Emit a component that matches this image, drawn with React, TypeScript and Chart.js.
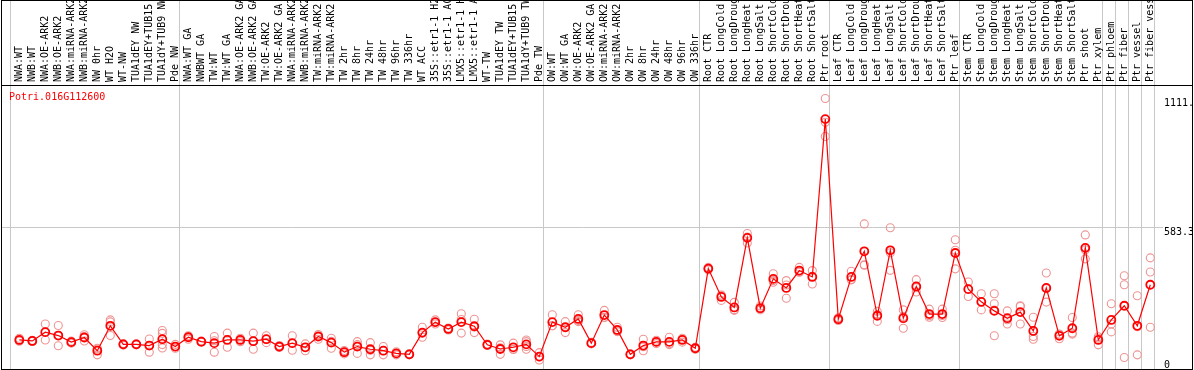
import React, { useEffect, useRef } from 'react';
import { Chart, registerables } from 'chart.js';

Chart.register(...registerables);

const geneId = 'Potri.016G112600';

const categories = [
  'NWA:WT', 'NWB:WT', 'NWA:OE-ARK2', 'NWB:OE-ARK2', 'NWA:miRNA-ARK2', 'NWB:miRNA-ARK2', 'NW 0hr', 'WT H2O', 'WT-NW',
  'TUA1dEY NW', 'TUA1dEY+TUB15 NW', 'TUA1dY+TUB9 NW', 'Pde NW',
  'NWA:WT GA', 'NWBWT GA', 'TW:WT', 'TW:WT GA', 'NWA:OE-ARK2 GA', 'NWB:OE-ARK2 GA', 'TW:OE-ARK2', 'TW:OE-ARK2 GA',
  'NWA:miRNA-ARK2', 'NWB:miRNA-ARK2', 'TW:miRNA-ARK2', 'TW:miRNA-ARK2', 'TW 2hr', 'TW 8hr', 'TW 24hr', 'TW 48hr',
  'TW 96hr', 'TW 336hr', 'WT ACC', '35S::etr1-1 H2O', '35S::etr1-1 ACC', 'LMX5::etr1-1 H2O', 'LMX5::etr1-1 ACC',
  'WT-TW', 'TUA1dEY TW', 'TUA1dEY+TUB15 TW', 'TUA1dY+TUB9 TW', 'Pde TW',
  'OW:WT', 'OW:WT GA', 'OW:OE-ARK2', 'OW:OE-ARK2 GA', 'OW:miRNA-ARK2', 'OW:miRNA-ARK2', 'OW 2hr', 'OW 8hr', 'OW 24hr',
  'OW 48hr', 'OW 96hr', 'OW 336hr',
  'Root CTR', 'Root LongCold', 'Root LongDrought', 'Root LongHeat', 'Root LongSalt', 'Root ShortCold',
  'Root ShortDrought', 'Root ShortHeat', 'Root ShortSalt', 'Ptr root',
  'Leaf CTR', 'Leaf LongCold', 'Leaf LongDrought', 'Leaf LongHeat', 'Leaf LongSalt', 'Leaf ShortCold',
  'Leaf ShortDrought', 'Leaf ShortHeat', 'Leaf ShortSalt', 'Ptr leaf',
  'Stem CTR', 'Stem LongCold', 'Stem LongDrought', 'Stem LongHeat', 'Stem LongSalt', 'Stem ShortCold',
  'Stem ShortDrought', 'Stem ShortHeat', 'Stem ShortSalt', 'Ptr shoot', 'Ptr xylem',
  'Ptr phloem', 'Ptr fiber', 'Ptr vessel', 'Ptr fiber vessel',
];

// index of the first category of each group (and the end)
const groupStarts = [0, 13, 41, 53, 63, 73, 84, 85, 86, 87, 88];

const means = [
  123, 119, 155, 141, 114, 133, 79, 181, 105, 105, 100, 126, 96,
  134, 116, 110, 123, 123, 118, 126, 96, 110, 93, 137, 112, 73, 96, 85, 79, 68, 64, 153, 196, 168, 196, 179, 103, 86, 93, 105, 55,
  196, 175, 209, 110, 225, 164, 64, 100, 115, 115, 123, 89,
  415, 299, 256, 541, 253, 373, 336, 407, 381, 1027,
  208, 381, 486, 222, 490, 212, 342, 229, 229, 479,
  331, 279, 242, 212, 237, 160, 336, 140, 171, 500, 123,
  205, 263, 181, 349,
];

const rep1 = [
  130, 122, 188, 182, 118, 144, 89, 205, 108, 107, 127, 162, 105,
  140, 118, 137, 151, 130, 151, 140, 100, 140, 107, 145, 130, 80, 116, 112, 96, 75, 66, 175, 205, 172, 230, 208, 106, 103, 110, 123, 71,
  226, 198, 226, 113, 244, 175, 66, 126, 122, 134, 130, 93,
  420, 305, 277, 559, 262, 394, 366, 420, 407, 1111.1,
  214, 404, 598, 240, 582, 246, 370, 249, 249, 533,
  360, 312, 312, 242, 263, 216, 397, 147, 215, 553, 130,
  271, 386, 304, 459,
];

const rep2 = [
  118, 117, 123, 99, 110, 119, 62, 141, 102, 103, 73, 150, 89,
  126, 114, 73, 93, 116, 85, 112, 92, 81, 79, 126, 89, 66, 68, 62, 62, 62, 62, 150, 188, 164, 151, 153, 100, 64, 85, 116, 41,
  181, 153, 203, 107, 215, 157, 62, 79, 108, 104, 114, 85,
  410, 285, 244, 520, 246, 359, 294, 400, 352, 956,
  203, 370, 431, 199, 408, 171, 319, 222, 215, 414,
  301, 246, 271, 188, 188, 137, 278, 128, 147, 455, 103,
  156, 349, 62, 401,
];

const rep3 = [
  121, 118, 155, 142, 114, 136, 86, 197, 105, 105, 100, 104, 95,
  136, 116, 120, 125, 123, 118, 126, 96, 109, 93, 140, 117, 73, 104, 81, 79, 67, 64, 134, 195, 168, 207, 176, 103, 91, 84, 96, 53,
  181, 174, 198, 110, 216, 160, 64, 95, 115, 107, 125, 89,
  415, 307, 247, 544, 251, 366, 348, 401, 384, 1014,
  207, 369, 429, 227, 480, 219, 337, 216, 223, 490,
  332, 279, 140, 206, 260, 126, 333, 145, 151, 492, 136,
  188, 51, 177, 175,
];

const rep4 = [
  null, null, null, null, null, null, null, null, null, null, null, 90, null,
  null, null, null, null, null, null, null, null, null, null, null, null, null, null, null, null, null, null, null, null, null, null, null, null, null, null, 85, null,
  null, null, null, null, null, null, null, null, null, null, null, null,
  null, null, null, null, null, null, null, null, null, null,
  null, null, null, null, null, null, null, null, null, null,
  null, null, 245, null, null, 161, null, null, null, null, null,
  null, null, null, null,
];

const yMax = 1166.66;
const gridValue = 583.3;
const maxValue = 1111.1;

const FONT = "'DejaVu Sans Mono', monospace";
const SEP_SHIFT = -0.66;

const isSep = (v: number | undefined) =>
  v !== undefined && groupStarts.some((k) => Math.abs(k + SEP_SHIFT - v) < 1e-6);

const zeroPadding = (scale: any) => {
  scale.paddingTop = 0;
  scale.paddingBottom = 0;
  scale.paddingLeft = 0;
  scale.paddingRight = 0;
};

// give the zero-width "0" label axis a drawable label area
const labelAreaPlugin = {
  id: 'labelArea',
  afterLayout(chart: any) {
    const s = chart.scales.yb;
    if (s) s.right = chart.width;
  },
};

const framePlugin = {
  id: 'frame',
  afterDraw(chart: any) {
    const ctx = chart.ctx;
    ctx.save();
    ctx.fillStyle = '#ffffff';
    ctx.fillRect(1193, 0, 1, 370);
    ctx.strokeStyle = '#000000';
    ctx.lineWidth = 1;
    ctx.beginPath();
    ctx.moveTo(1.5, 0);
    ctx.lineTo(1.5, 370);
    ctx.moveTo(1192.5, 0);
    ctx.lineTo(1192.5, 370);
    ctx.moveTo(1, 0.5);
    ctx.lineTo(1193, 0.5);
    ctx.moveTo(1, 85.5);
    ctx.lineTo(1193, 85.5);
    ctx.moveTo(1, 369.5);
    ctx.lineTo(1193, 369.5);
    ctx.stroke();
    ctx.font = `10px ${FONT}`;
    ctx.fillStyle = '#ff0000';
    ctx.textAlign = 'left';
    ctx.textBaseline = 'middle';
    ctx.fillText(geneId, 9, 97);
    ctx.restore();
  },
};

export default function App() {
  const ref = useRef<HTMLCanvasElement>(null);

  useEffect(() => {
    if (!ref.current) return;
    const meanPts = means.map((v, i) => ({ x: i, y: v }));
    const repPts: { x: number; y: number }[] = [];
    [rep1, rep2, rep3, rep4].forEach((arr) =>
      arr.forEach((v, i) => {
        if (v !== null && v !== undefined) repPts.push({ x: i, y: v as number });
      })
    );
    const xTicks: { value: number }[] = [];
    categories.forEach((_, i) => xTicks.push({ value: i }));
    groupStarts.forEach((k) => xTicks.push({ value: k + SEP_SHIFT }));
    xTicks.sort((a, b) => a.value - b.value);

    const chart = new Chart(ref.current, {
      type: 'line',
      data: {
        datasets: [
          {
            data: meanPts,
            borderColor: '#ff0000',
            borderWidth: 1.2,
            pointRadius: 4,
            pointBorderWidth: 1.8,
            pointBorderColor: '#ff0000',
            pointBackgroundColor: 'rgba(0,0,0,0)',
            tension: 0,
            order: 0,
          },
          {
            data: repPts,
            showLine: false,
            pointRadius: 4,
            pointBorderWidth: 1.1,
            pointBorderColor: '#ee9494',
            pointBackgroundColor: 'rgba(0,0,0,0)',
            order: 1,
          },
        ],
      },
      options: {
        animation: false,
        responsive: false,
        devicePixelRatio: 1,
        layout: { autoPadding: false, padding: { left: 2, right: 0, top: 0, bottom: 0 } },
        plugins: { legend: { display: false }, tooltip: { enabled: false } },
        scales: {
          x: {
            type: 'linear',
            position: 'top',
            min: -1.331,
            max: 87.977,
            afterBuildTicks: (scale: any) => {
              scale.ticks = xTicks.map((t) => ({ value: t.value }));
            },
            afterFit: (scale: any) => {
              scale.height = 85;
              zeroPadding(scale);
            },
            ticks: {
              autoSkip: false,
              minRotation: 90,
              maxRotation: 90,
              padding: -82,
              labelOffset: 12,
              color: '#000000',
              font: { family: FONT, size: 10 },
              callback: (v: any) => (Number.isInteger(v) ? categories[v] : ''),
            },
            grid: {
              color: (ctx: any) => (isSep(ctx.tick?.value) ? '#c8c8c8' : 'rgba(0,0,0,0)'),
              tickLength: 85,
              lineWidth: 1,
            },
            border: { display: false },
          },
          y: {
            type: 'linear',
            position: 'right',
            weight: 1,
            min: 0,
            max: yMax,
            afterBuildTicks: (scale: any) => {
              scale.ticks = [{ value: gridValue }, { value: maxValue }];
            },
            afterFit: (scale: any) => {
              scale.width = 31;
              zeroPadding(scale);
            },
            ticks: {
              align: 'start',
              crossAlign: 'near',
              padding: 1,
              color: '#000000',
              font: { family: FONT, size: 10 },
              callback: (v: any) => Number(v).toFixed(1),
            },
            grid: {
              color: (ctx: any) => (ctx.tick && ctx.tick.value === gridValue ? '#c8c8c8' : 'rgba(0,0,0,0)'),
              drawTicks: false,
            },
            border: { display: false },
          },
          yb: {
            type: 'linear',
            position: 'right',
            weight: 0,
            min: 0,
            max: yMax,
            afterBuildTicks: (scale: any) => {
              scale.ticks = [{ value: 0 }];
            },
            afterFit: (scale: any) => {
              scale.width = 0;
              zeroPadding(scale);
            },
            ticks: {
              align: 'end',
              crossAlign: 'near',
              padding: 1,
              color: '#000000',
              font: { family: FONT, size: 10 },
              callback: (v: any) => String(v),
            },
            grid: { display: false, drawTicks: false },
            border: { display: false },
          },
        },
      },
      plugins: [labelAreaPlugin, framePlugin],
    } as any);
    return () => chart.destroy();
  }, []);

  return (
    <div style={{ position: 'fixed', left: 0, top: 0, width: 1194, height: 370, background: '#fff' }}>
      <canvas ref={ref} width={1194} height={370} style={{ width: 1194, height: 370 }} />
    </div>
  );
}
